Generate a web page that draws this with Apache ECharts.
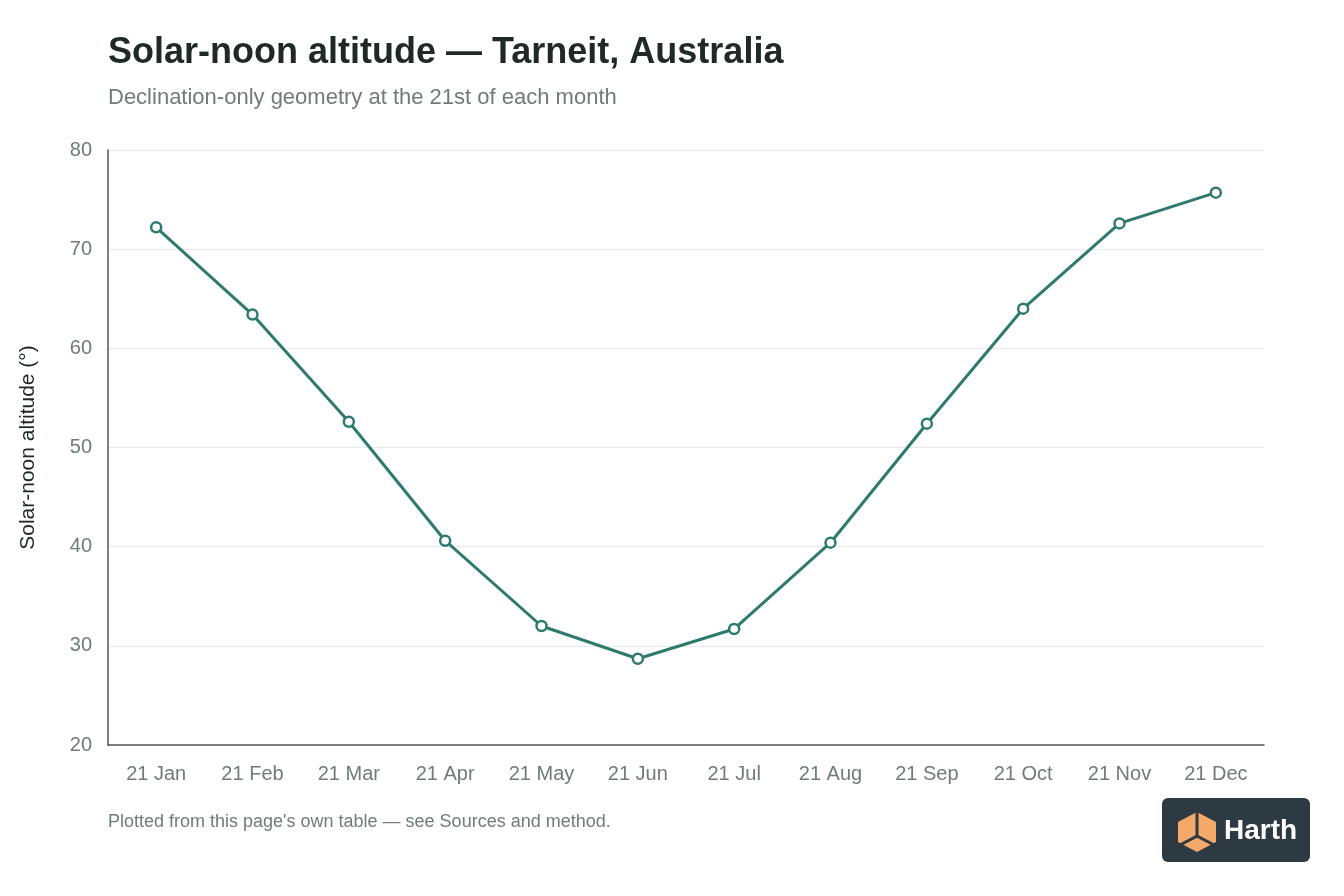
<!DOCTYPE html>
<html>
<head>
<meta charset="utf-8">
<script src="https://cdn.jsdelivr.net/npm/echarts@6/dist/echarts.min.js"></script>
<style>
  html, body { margin: 0; padding: 0; background: #fff; }
  #chart { width: 1344px; height: 896px; }
</style>
</head>
<body>
<div id="chart"></div>
<script>
var months = ['21 Jan', '21 Feb', '21 Mar', '21 Apr', '21 May', '21 Jun',
              '21 Jul', '21 Aug', '21 Sep', '21 Oct', '21 Nov', '21 Dec'];
var altitude = [72.2, 63.4, 52.6, 40.6, 32.0, 28.7, 31.7, 40.4, 52.4, 64.0, 72.6, 75.7];
var yTicks = [20, 80, 10]; // min, max, step

var font = '"Liberation Sans", Arial, sans-serif';
var lineColor = '#2e7b6e';

var myChart = echarts.init(document.getElementById('chart'));

var option = {
    backgroundColor: '#ffffff',
    title: [{
        text: 'Solar-noon altitude — Tarneit, Australia',
        left: 108,
        top: 35,
        padding: 0,
        textStyle: { fontFamily: font, fontSize: 36, fontWeight: 'bold', color: '#1f2a27' }
    }, {
        text: 'Declination-only geometry at the 21st of each month',
        left: 108,
        top: 87,
        padding: 0,
        textStyle: { fontFamily: font, fontSize: 22, fontWeight: 'normal', color: '#6f7c78' }
    }, {
        text: "Plotted from this page's own table — see Sources and method.",
        left: 108,
        top: 813,
        padding: 0,
        textStyle: { fontFamily: font, fontSize: 18, fontWeight: 'normal', color: '#6f7c78' }
    }],
    grid: { left: 108, right: 80, top: 150, bottom: 151 },
    xAxis: {
        type: 'category',
        data: months,
        boundaryGap: true,
        axisLine: { lineStyle: { color: '#555', width: 1.5 } },
        axisTick: { show: false },
        axisLabel: { margin: 19, fontFamily: font, fontSize: 20, color: '#6f7c78' }
    },
    yAxis: {
        type: 'value',
        min: yTicks[0],
        max: yTicks[1],
        interval: yTicks[2],
        name: 'Solar-noon altitude (°)',
        nameLocation: 'middle',
        nameGap: 69,
        nameTextStyle: { fontFamily: font, fontSize: 21, color: '#1f2a27' },
        axisLine: { show: true, lineStyle: { color: '#555', width: 1.5 } },
        axisTick: { show: false },
        axisLabel: { margin: 16, fontFamily: font, fontSize: 20, color: '#6f7c78' },
        splitLine: { lineStyle: { color: '#e8eaea', width: 1 } }
    },
    series: [{
        type: 'line',
        data: altitude,
        symbol: 'circle',
        symbolSize: 10,
        itemStyle: { color: '#ffffff', borderColor: lineColor, borderWidth: 2.5 },
        lineStyle: { color: lineColor, width: 3 }
    }],
    graphic: [{
        type: 'group',
        left: 1162,
        top: 798,
        children: [{
            type: 'rect',
            shape: { x: 0, y: 0, width: 148, height: 64, r: 6 },
            style: { fill: '#2d3a42' }
        }, {
            type: 'polygon',
            shape: { points: [[35, 14], [54, 24], [54, 44], [35, 54], [16, 44], [16, 24]] },
            style: { fill: '#f4a96a' }
        }, {
            type: 'polyline',
            shape: { points: [[35, 14], [35, 38], [16, 48]] },
            style: { stroke: '#2d3a42', lineWidth: 3, fill: null }
        }, {
            type: 'polyline',
            shape: { points: [[35, 38], [54, 48]] },
            style: { stroke: '#2d3a42', lineWidth: 3, fill: null }
        }, {
            type: 'text',
            style: {
                x: 62, y: 19, text: 'Harth',
                fill: '#ffffff', fontFamily: font, fontSize: 28, fontWeight: 'bold'
            }
        }]
    }]
};

myChart.setOption(option);
</script>
</body>
</html>
